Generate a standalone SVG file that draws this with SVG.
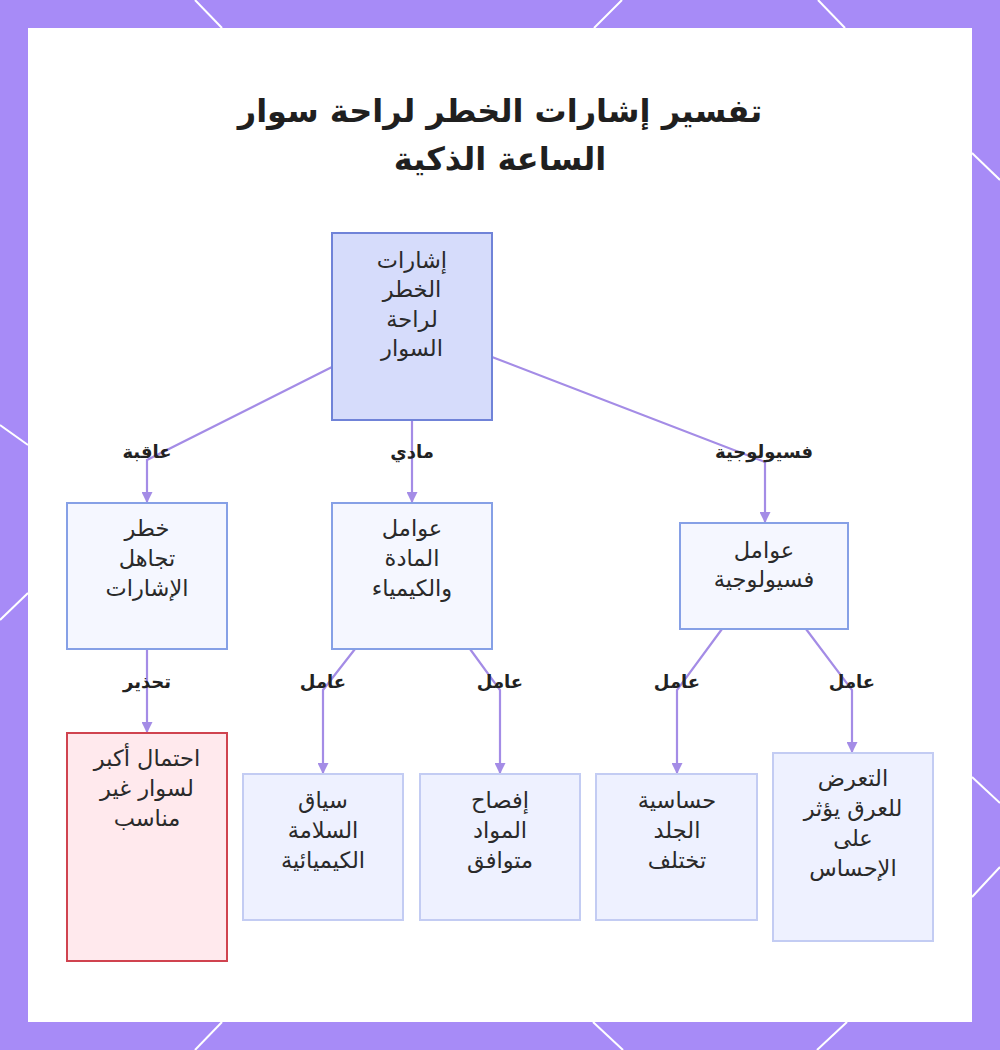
<svg xmlns="http://www.w3.org/2000/svg" width="1000" height="1050" viewBox="0 0 1000 1050">
<defs>
<style>
.bg{fill:#a78bf7}
.hex{stroke:#ffffff;stroke-width:2;fill:none}
.panel{fill:#ffffff}
.title{font-family:"DejaVu Sans","Noto Sans",sans-serif;font-weight:bold;font-size:32px;fill:#1f1f1f;text-anchor:middle}
.nt{font-family:"DejaVu Sans","Noto Sans",sans-serif;font-size:22.5px;fill:#2a2a2a;text-anchor:middle}
.lbl{font-family:"DejaVu Sans","Noto Sans",sans-serif;font-weight:bold;font-size:18px;fill:#222;text-anchor:middle}
.root{fill:#d6dcfb;stroke:#7083d8;stroke-width:2}
.mid{fill:#f5f7ff;stroke:#86a0e6;stroke-width:2}
.leaf{fill:#eef1ff;stroke:#c3ccf3;stroke-width:2}
.warn{fill:#ffe9ed;stroke:#d0434f;stroke-width:2}
.edge{fill:none;stroke:#a48ce6;stroke-width:2.2}
</style>
<marker id="arr" viewBox="0 0 10 10" refX="9" refY="5" markerWidth="5" markerHeight="5" orient="auto">
<path d="M0,0 L10,5 L0,10 z" fill="#a48ce6"/>
</marker>
</defs>
<rect class="bg" x="0" y="0" width="1000" height="1050"/>
<g class="hex">
<line x1="195" y1="0" x2="222" y2="28"/>
<line x1="622" y1="0" x2="594" y2="28"/>
<line x1="818" y1="0" x2="845" y2="28"/>
<line x1="972" y1="153" x2="1000" y2="180"/>
<line x1="972" y1="777" x2="1000" y2="803"/>
<line x1="972" y1="897" x2="1000" y2="867"/>
<line x1="0" y1="425" x2="28" y2="445"/>
<line x1="0" y1="620" x2="28" y2="593"/>
<line x1="195" y1="1050" x2="222" y2="1022"/>
<line x1="593" y1="1022" x2="623" y2="1050"/>
<line x1="847" y1="1022" x2="817" y2="1050"/>
</g>
<rect class="panel" x="28" y="28" width="944" height="994"/>
<g id="title">
<text class="title" x="500" y="122" direction="rtl">تفسير إشارات الخطر لراحة سوار</text>
<text class="title" x="500" y="170" direction="rtl">الساعة الذكية</text>
</g>
<g id="connectors">
<polyline class="edge" points="332,367 147,460 147,502" marker-end="url(#arr)"/>
<polyline class="edge" points="412,420 412,502" marker-end="url(#arr)"/>
<polyline class="edge" points="492,357 765,462 765,522" marker-end="url(#arr)"/>
<polyline class="edge" points="147,649 147,732" marker-end="url(#arr)"/>
<polyline class="edge" points="355,649 323,690 323,773" marker-end="url(#arr)"/>
<polyline class="edge" points="470,649 500,690 500,773" marker-end="url(#arr)"/>
<polyline class="edge" points="722,629 677,690 677,773" marker-end="url(#arr)"/>
<polyline class="edge" points="806,629 852,690 852,752" marker-end="url(#arr)"/>
<text class="lbl" x="147" y="458" direction="rtl">عاقبة</text>
<text class="lbl" x="412" y="458" direction="rtl">مادي</text>
<text class="lbl" x="764" y="458" direction="rtl">فسيولوجية</text>
<text class="lbl" x="147" y="688" direction="rtl">تحذير</text>
<text class="lbl" x="323" y="688" direction="rtl">عامل</text>
<text class="lbl" x="500" y="688" direction="rtl">عامل</text>
<text class="lbl" x="677" y="688" direction="rtl">عامل</text>
<text class="lbl" x="852" y="688" direction="rtl">عامل</text>
</g>
<g id="n_root">
<rect class="root" x="332" y="233" width="160" height="187"/>
<text class="nt" x="412" y="268" direction="rtl">إشارات</text>
<text class="nt" x="412" y="297" direction="rtl">الخطر</text>
<text class="nt" x="412" y="327" direction="rtl">لراحة</text>
<text class="nt" x="412" y="356" direction="rtl">السوار</text>
</g>
<g id="n_ignore">
<rect class="mid" x="67" y="503" width="160" height="146"/>
<text class="nt" x="147" y="536" direction="rtl">خطر</text>
<text class="nt" x="147" y="566" direction="rtl">تجاهل</text>
<text class="nt" x="147" y="596" direction="rtl">الإشارات</text>
</g>
<g id="n_material">
<rect class="mid" x="332" y="503" width="160" height="146"/>
<text class="nt" x="412" y="536" direction="rtl">عوامل</text>
<text class="nt" x="412" y="566" direction="rtl">المادة</text>
<text class="nt" x="412" y="596" direction="rtl">والكيمياء</text>
</g>
<g id="n_physio">
<rect class="mid" x="680" y="523" width="168" height="106"/>
<text class="nt" x="764" y="558" direction="rtl">عوامل</text>
<text class="nt" x="764" y="587" direction="rtl">فسيولوجية</text>
</g>
<g id="n_risk">
<rect class="warn" x="67" y="733" width="160" height="228"/>
<text class="nt" x="147" y="766" direction="rtl">احتمال أكبر</text>
<text class="nt" x="147" y="796" direction="rtl">لسوار غير</text>
<text class="nt" x="147" y="826" direction="rtl">مناسب</text>
</g>
<g id="n_chem">
<rect class="leaf" x="243" y="774" width="160" height="146"/>
<text class="nt" x="323" y="808" direction="rtl">سياق</text>
<text class="nt" x="323" y="838" direction="rtl">السلامة</text>
<text class="nt" x="323" y="868" direction="rtl">الكيميائية</text>
</g>
<g id="n_disclose">
<rect class="leaf" x="420" y="774" width="160" height="146"/>
<text class="nt" x="500" y="808" direction="rtl">إفصاح</text>
<text class="nt" x="500" y="838" direction="rtl">المواد</text>
<text class="nt" x="500" y="868" direction="rtl">متوافق</text>
</g>
<g id="n_skin">
<rect class="leaf" x="596" y="774" width="161" height="146"/>
<text class="nt" x="677" y="808" direction="rtl">حساسية</text>
<text class="nt" x="677" y="838" direction="rtl">الجلد</text>
<text class="nt" x="677" y="868" direction="rtl">تختلف</text>
</g>
<g id="n_sweat">
<rect class="leaf" x="773" y="753" width="160" height="188"/>
<text class="nt" x="853" y="786" direction="rtl">التعرض</text>
<text class="nt" x="853" y="816" direction="rtl">للعرق يؤثر</text>
<text class="nt" x="853" y="846" direction="rtl">على</text>
<text class="nt" x="853" y="876" direction="rtl">الإحساس</text>
</g>
</svg>
